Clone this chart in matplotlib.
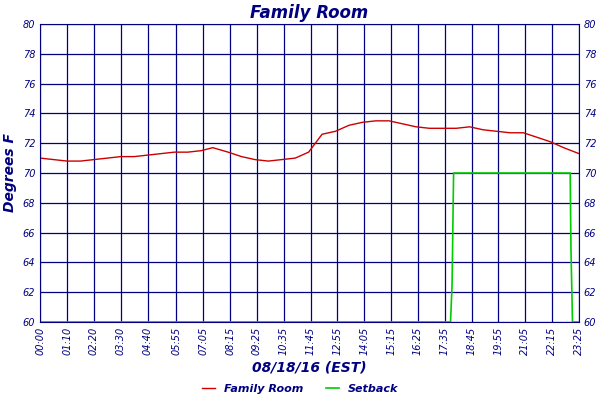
import matplotlib
matplotlib.use("Agg")
import matplotlib.pyplot as plt

navy = "#000080"
# time in minutes, temperature (F)
room_t = [0,35,70,105,140,175,210,245,280,315,350,385,420,450,490,525,560,595,630,665,700,735,770,805,840,875,910,945,980,1015,1050,1085,1120,1155,1190,1225,1260,1295,1330,1365,1405]
room_v = [71.0,70.9,70.8,70.8,70.9,71.0,71.1,71.1,71.2,71.3,71.4,71.4,71.5,71.7,71.4,71.1,70.9,70.8,70.9,71.0,71.4,72.6,72.8,73.2,73.4,73.5,73.5,73.3,73.1,73.0,73.0,73.0,73.1,72.9,72.8,72.7,72.7,72.4,72.1,71.7,71.3]
set_t = [0,1070,1074,1078,1382,1384,1388,1405]
set_v = [60,60,62.5,70,70,65,60,60]
ticks = [0,70,140,210,280,355,425,495,565,635,705,775,845,915,985,1055,1125,1195,1265,1335,1405]
tick_labels = ["%02d:%02d" % (m//60, m%60) for m in ticks]

fig = plt.figure(figsize=(6,4), dpi=100)
ax = fig.add_axes([0.067, 0.195, 0.898, 0.745])
ax.plot(room_t, room_v, color="#cc0000", lw=1, label="Family Room")
ax.plot(set_t, set_v, color="#00cc00", lw=1.2, label="Setback")
ax.set_xlim(0,1405); ax.set_ylim(60,80)
ax.set_xticks(ticks); ax.set_xticklabels(tick_labels, rotation=90, fontsize=7, color=navy, style="italic")
ax.set_yticks(range(60,81,2))
ax.tick_params(axis="y", labelsize=7, labelcolor=navy, length=0, labelright=True)
ax.tick_params(axis="x", length=0)
for lab in ax.get_yticklabels(): lab.set_style("italic")
ax.grid(True, color=navy, lw=0.9)
for s in ax.spines.values(): s.set_color(navy)
ax.set_title("Family Room", color=navy, fontsize=12, style="italic", fontweight="bold", pad=4)
ax.set_ylabel("Degrees F", color=navy, fontsize=10, style="italic", fontweight="bold")
ax.set_xlabel("08/18/16 (EST)", color=navy, fontsize=10, style="italic", fontweight="bold", labelpad=4)
leg = fig.legend(loc="lower center", ncol=2, frameon=False, fontsize=8, bbox_to_anchor=(0.5,-0.01), handlelength=1.2)
for t in leg.get_texts(): t.set_color(navy); t.set_style("italic"); t.set_fontweight("bold")
fig.savefig("out.png")
